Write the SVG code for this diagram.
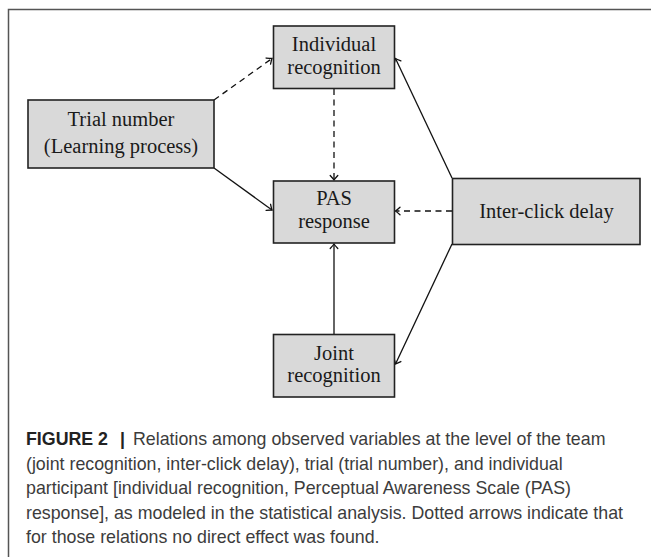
<svg xmlns="http://www.w3.org/2000/svg" width="651" height="557" viewBox="0 0 651 557">
<defs>
<style>
.box{fill:#d9d9d9;stroke:#222;stroke-width:1.6}
.lbl{font-family:"Liberation Serif","Times New Roman",serif;font-size:20.5px;fill:#1a1a1a;text-anchor:middle}
.edge{fill:none;stroke:#111;stroke-width:1.3}
.dash{stroke-dasharray:6 4.5}
.cap{font-family:"Liberation Sans",Arial,sans-serif;font-size:17.8px;fill:#3c3c3c}
.capb{font-weight:bold;fill:#222}
</style>
<marker id="ah" viewBox="-6 -5 8 10" markerWidth="8" markerHeight="10" refX="0" refY="0" orient="auto" markerUnits="userSpaceOnUse">
<path d="M-4.5,-3.8 Q-1.2,-0.8 0,0 Q-1.2,0.8 -4.5,3.8" fill="none" stroke="#111" stroke-width="1.3" stroke-linecap="round"/>
</marker>
</defs>
<rect x="8.5" y="9.5" width="700" height="600" fill="none" stroke="#555" stroke-width="1.5"/>
<g id="connectors">
<line class="edge dash" x1="214" y1="100" x2="272" y2="58.5" marker-end="url(#ah)"/>
<line class="edge" x1="214" y1="168" x2="272" y2="210" marker-end="url(#ah)"/>
<line class="edge dash" x1="334" y1="89" x2="334" y2="180" marker-end="url(#ah)"/>
<line class="edge dash" x1="452" y1="211" x2="395.5" y2="211" marker-end="url(#ah)"/>
<line class="edge" x1="452" y1="178" x2="395.5" y2="58.5" marker-end="url(#ah)"/>
<line class="edge" x1="452" y1="244" x2="395.5" y2="364" marker-end="url(#ah)"/>
<line class="edge" x1="334" y1="334" x2="334" y2="244" marker-end="url(#ah)"/>
</g>
<g id="individual">
<rect class="box" x="273.5" y="26" width="121" height="62.5"/>
<text class="lbl" x="334" y="50.5">Individual</text>
<text class="lbl" x="334" y="74">recognition</text>
</g>
<g id="trial">
<rect class="box" x="28" y="100" width="186" height="68"/>
<text class="lbl" x="121" y="125.5">Trial number</text>
<text class="lbl" x="121" y="153">(Learning process)</text>
</g>
<g id="pas">
<rect class="box" x="273.5" y="181" width="121" height="62"/>
<text class="lbl" x="334" y="205">PAS</text>
<text class="lbl" x="334" y="227.5">response</text>
</g>
<g id="interclick">
<rect class="box" x="452.5" y="178.5" width="187.5" height="66"/>
<text class="lbl" x="546.5" y="217.5">Inter-click delay</text>
</g>
<g id="joint">
<rect class="box" x="273.5" y="334.5" width="121" height="62.5"/>
<text class="lbl" x="334" y="359.5">Joint</text>
<text class="lbl" x="334" y="382">recognition</text>
</g>
<g id="caption">
<text class="cap" x="26" y="445"><tspan class="capb">FIGURE 2</tspan><tspan class="capb" x="115"> | </tspan><tspan x="133">Relations among observed variables at the level of the team</tspan></text>
<text class="cap" x="26" y="469.5">(joint recognition, inter-click delay), trial (trial number), and individual</text>
<text class="cap" x="26" y="494">participant [individual recognition, Perceptual Awareness Scale (PAS)</text>
<text class="cap" x="26" y="518.5">response], as modeled in the statistical analysis. Dotted arrows indicate that</text>
<text class="cap" x="26" y="543">for those relations no direct effect was found.</text>
</g>
</svg>
